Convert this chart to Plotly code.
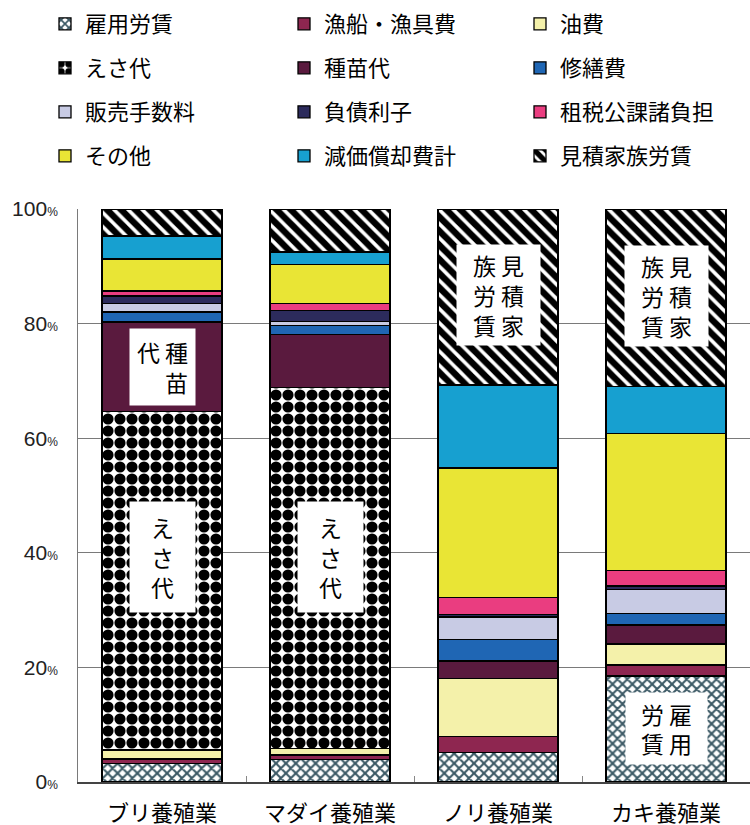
import plotly.graph_objects as go

categories = ["ブリ養殖業", "マダイ養殖業", "ノリ養殖業", "カキ養殖業"]

series_names = ["雇用労賃", "漁船・漁具費", "油費",
                "えさ代", "種苗代", "修繕費",
                "販売手数料", "負債利子", "租税公課諸負担",
                "その他", "減価償却費計", "見積家族労賃"]

koyo_rouchin = [3.2, 3.9, 5.2, 18.5]
gyosen_gyogu = [0.8, 0.8, 2.7, 1.9]
yuhi = [1.6, 1.2, 10.2, 3.7]
esadai = [59.0, 62.9, 0.0, 0.0]
shubyodai = [15.7, 9.3, 3.0, 3.3]
shuzenhi = [1.7, 1.6, 3.8, 2.0]
hanbai_tesuryo = [1.5, 0.7, 3.9, 4.2]
fusai_rishi = [1.3, 1.9, 0.4, 0.6]
sozei = [0.9, 1.2, 3.0, 2.7]
sonota = [5.6, 6.8, 22.6, 23.9]
genka_shokyaku = [4.0, 2.2, 14.5, 8.2]
mitsumori_kazoku = [4.7, 7.5, 30.7, 31.0]

series_values = [koyo_rouchin, gyosen_gyogu, yuhi, esadai, shubyodai, shuzenhi,
                 hanbai_tesuryo, fusai_rishi, sozei, sonota, genka_shokyaku,
                 mitsumori_kazoku]

y_tick_values = [0, 20, 40, 60, 80, 100]
y_tick_labels = [f"{v}<span style='font-size:12px'>%</span>" for v in y_tick_values]

# in-bar labels: (category index, text, y anchor, box width, box height)
label_cats = [0, 0, 1, 2, 3, 3]
label_texts = ["代 種<br>\u3000 苗", "え<br>さ<br>代", "え<br>さ<br>代",
               "族 見<br>労 積<br>賃 家", "族 見<br>労 積<br>賃 家", "労 雇<br>賃 用"]
label_y = [72.4, 39.3, 39.3, 85.0, 84.8, 9.4]
label_w = [65, 65, 65, 83, 83, 81]
label_h = [76, 110, 110, 100, 100, 71]

styles = {
    "雇用労賃": dict(color="white", pattern=dict(shape="x", fgcolor="#3a5864", bgcolor="white", size=7, solidity=0.5, fgopacity=1)),
    "漁船・漁具費": dict(color="#8e2650"),
    "油費": dict(color="#f4f1aa"),
    "えさ代": dict(color="white", pattern=dict(shape=".", fgcolor="black", bgcolor="white", size=12, solidity=0.68, fgopacity=1)),
    "種苗代": dict(color="#5a1a3e"),
    "修繕費": dict(color="#1f66b4"),
    "販売手数料": dict(color="#c8cbe4"),
    "負債利子": dict(color="#2c2b5c"),
    "租税公課諸負担": dict(color="#ea3d80"),
    "その他": dict(color="#e9e535"),
    "減価償却費計": dict(color="#17a0d0"),
    "見積家族労賃": dict(color="white", pattern=dict(shape="\\", fgcolor="black", bgcolor="white", size=10, solidity=0.65, fgopacity=1)),
}

CJK = "Noto Sans CJK JP"
W, H = 750, 825

fig = go.Figure()
for i, (name, vals) in enumerate(zip(series_names, series_values)):
    st = styles[name]
    marker = dict(color=st["color"], line=dict(color="black", width=1.3))
    if "pattern" in st:
        marker["pattern"] = st["pattern"]
    fig.add_trace(go.Bar(
        x=categories, y=vals, name=name, marker=marker,
        legend="legend" if i == 0 else f"legend{i + 1}",
    ))

# one legend per entry, laid out on a 3-column grid
legend_col_x = [45, 284, 520]
legend_row_y = [24, 68, 112, 156]
legend_layout = {}
for i in range(len(series_names)):
    r, c = divmod(i, 3)
    key = "legend" if i == 0 else f"legend{i + 1}"
    legend_layout[key] = dict(
        orientation="h", xref="container", yref="container",
        xanchor="left", yanchor="middle",
        x=legend_col_x[c] / W, y=1 - legend_row_y[r] / H,
        bgcolor="rgba(0,0,0,0)",
        font=dict(family=CJK, size=22, color="black"))

annotations = []
for c, t, yv, w, h in zip(label_cats, label_texts, label_y, label_w, label_h):
    annotations.append(dict(x=categories[c], y=yv, xref="x", yref="y", text=t,
                            showarrow=False, bgcolor="white", width=w, height=h,
                            borderpad=0, font=dict(family=CJK, size=23, color="black")))

fig.update_layout(
    width=W, height=H,
    margin=dict(l=78, r=0, t=209, b=43),
    barmode="stack", bargap=0.286,
    plot_bgcolor="white", paper_bgcolor="white",
    showlegend=True,
    annotations=annotations,
    **legend_layout,
)
fig.update_xaxes(
    showline=True, linecolor="#444", linewidth=1.5,
    ticks="inside", tickson="boundaries", ticklen=6, tickcolor="#888",
    tickfont=dict(family=CJK, size=22, color="black"),
    ticklabelstandoff=11, automargin=False,
)
fig.update_yaxes(
    range=[0, 100], tickvals=y_tick_values, ticktext=y_tick_labels,
    showgrid=True, gridcolor="#7a7a7a", gridwidth=1,
    showline=True, linecolor="#7a7a7a", linewidth=1, zeroline=False,
    tickfont=dict(family="Liberation Sans", size=21, color="#222"),
    ticklabelstandoff=15, automargin=False,
)

fig.write_html("out.html", config={"displayModeBar": False},
               post_script="document.body.style.margin='0px';")
